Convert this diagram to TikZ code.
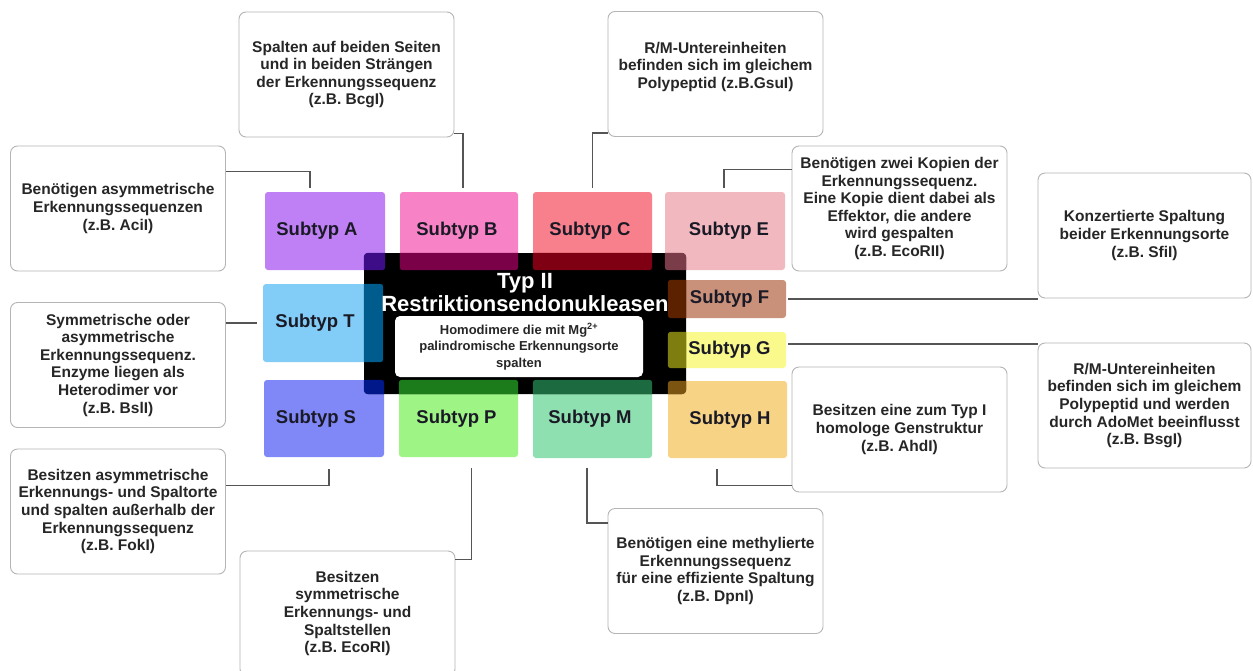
\documentclass[tikz,border=0pt]{standalone}
\usepackage{fontspec}
\setmainfont{Liberation Sans}
\usetikzlibrary{calc}
\definecolor{cA}{HTML}{BF80F5}
\definecolor{cB}{HTML}{F783C6}
\definecolor{cC}{HTML}{F7808C}
\definecolor{cE}{HTML}{F2B8C0}
\definecolor{cF}{HTML}{C9907A}
\definecolor{cG}{HTML}{FAFA8C}
\definecolor{cH}{HTML}{F7D385}
\definecolor{cM}{HTML}{8FE0B0}
\definecolor{cP}{HTML}{9EF585}
\definecolor{cS}{HTML}{8088F7}
\definecolor{cT}{HTML}{82CDF7}
\definecolor{dA}{HTML}{3D0D88}
\definecolor{dB}{HTML}{7A0048}
\definecolor{dC}{HTML}{7E0012}
\definecolor{dE}{HTML}{7A3C48}
\definecolor{dF}{HTML}{5C2200}
\definecolor{dG}{HTML}{7E7E10}
\definecolor{dH}{HTML}{7A5410}
\definecolor{dM}{HTML}{1C6A40}
\definecolor{dP}{HTML}{1C7C1C}
\definecolor{dS}{HTML}{00188A}
\definecolor{dT}{HTML}{005C8C}
\definecolor{subtext}{HTML}{1A1A26}
\definecolor{calltext}{HTML}{262626}
\definecolor{callborder}{HTML}{B5B5B5}
\definecolor{connline}{HTML}{555555}
\begin{document}
\begin{tikzpicture}[x=1pt,y=-1pt,
  subbox/.style={rectangle, rounded corners=3pt, inner sep=0pt, text=subtext,
    font=\bfseries\fontsize{18.5}{20}\selectfont},
  callout/.style={rectangle, draw=callborder, line width=0.9pt, fill=white,
    rounded corners=7pt, minimum width=215pt, minimum height=125pt, inner sep=0pt,
    align=center, text=calltext, font=\bfseries\fontsize{15.5}{17.6}\selectfont},
  conn/.style={draw=connline, line width=1.4pt}]
\useasboundingbox[fill=white] (0,0) rectangle (1253,670);

% subtype boxes
\node[subbox, fill=cA, minimum width=120pt, minimum height=78pt] (A) at (325,231) {\hspace*{-16pt}Subtyp A};
\node[subbox, fill=cB, minimum width=118pt, minimum height=78pt] (B) at (459,231) {\hspace*{-4pt}Subtyp B};
\node[subbox, fill=cC, minimum width=119pt, minimum height=78pt] (C) at (592.5,231) {\hspace*{-5pt}Subtyp C};
\node[subbox, fill=cE, minimum width=120pt, minimum height=78pt] (E) at (725,231) {\hspace*{8pt}Subtyp E};
\node[subbox, fill=cT, minimum width=120pt, minimum height=78pt] (T) at (323,323) {\hspace*{-16pt}Subtyp T};
\node[subbox, fill=cS, minimum width=120pt, minimum height=77pt] (S) at (324,418.5) {\hspace*{-16pt}Subtyp S};
\node[subbox, fill=cP, minimum width=119pt, minimum height=77pt] (P) at (458.5,418.5) {\hspace*{-4pt}Subtyp P};
\node[subbox, fill=cM, minimum width=119pt, minimum height=78pt] (M) at (592.5,419) {\hspace*{-5pt}Subtyp M};
\node[subbox, fill=cH, minimum width=119pt, minimum height=77pt] (H) at (727.5,419.5) {\hspace*{5pt}Subtyp H};
\node[subbox, fill=cF, minimum width=118pt, minimum height=38pt] (F) at (727,299) {\hspace*{5pt}Subtyp F};
\node[subbox, fill=cG, minimum width=118pt, minimum height=36pt] (G) at (727,350) {\hspace*{5pt}Subtyp G};

% central black box
\node[rectangle, rounded corners=4pt, fill=black, minimum width=322pt, minimum height=141pt, inner sep=0pt] (core) at (525,323.5) {};
\begin{scope}
  \clip[rounded corners=4pt] (core.south west) rectangle (core.north east);
  \foreach \n/\c in {A/dA,B/dB,C/dC,E/dE,T/dT,S/dS,P/dP,M/dM,H/dH,F/dF,G/dG}
    \fill[\c, rounded corners=3pt] (\n.south west) rectangle (\n.north east);
\end{scope}
\node[align=center, text=white, font=\bfseries\fontsize{22}{23}\selectfont, inner sep=0pt] (title) at (525,293) {Typ II\\Restriktionsendonukleasen};
\node[rectangle, rounded corners=5pt, fill=white, minimum width=248pt, minimum height=61pt, inner sep=0pt,
  align=center, text=calltext, font=\bfseries\fontsize{13}{16.5}\selectfont] (inner) at (519,346.5)
  {Homodimere die mit Mg\textsuperscript{2+}\\palindromische Erkennungsorte\\spalten};

% callouts
\node[callout] (cAbox) at (118,208.5) {Benötigen asymmetrische\\Erkennungssequenzen\\(z.B. AciI)};
\node[callout] (cBbox) at (346.5,74.5) {Spalten auf beiden Seiten\\und in beiden Strängen\\der Erkennungssequenz\\(z.B. BcgI)};
\node[callout] (cCbox) at (715.5,74) {R/M-Untereinheiten\\befinden sich im gleichem\\Polypeptid (z.B.GsuI)\\\mbox{}};
\node[callout] (cEbox) at (899.5,208.5) {Benötigen zwei Kopien der\\Erkennungssequenz.\\Eine Kopie dient dabei als\\Effektor, die andere\\wird gespalten\\(z.B. EcoRII)};
\node[callout, minimum width=213pt] (cFbox) at (1144.5,235.5) {Konzertierte Spaltung\\beider Erkennungsorte\\(z.B. SfiI)};
\node[callout, minimum width=213pt] (cGbox) at (1144.5,405.5) {R/M-Untereinheiten\\befinden sich im gleichem\\Polypeptid und werden\\durch AdoMet beeinflusst\\(z.B. BsgI)};
\node[callout] (cHbox) at (899.5,429.5) {Besitzen eine zum Typ I\\homologe Genstruktur\\(z.B. AhdI)};
\node[callout] (cMbox) at (715.5,571) {Benötigen eine methylierte\\Erkennungssequenz\\für eine effiziente Spaltung\\(z.B. DpnI)};
\node[callout] (cTbox) at (118,365) {Symmetrische oder\\asymmetrische\\Erkennungssequenz.\\Enzyme liegen als\\Heterodimer vor\\(z.B. BslI)};
\node[callout] (cSbox) at (118,511.5) {Besitzen asymmetrische\\Erkennungs- und Spaltorte\\und spalten außerhalb der\\Erkennungssequenz\\(z.B. FokI)};
\node[callout] (cPbox) at (347.5,613.5) {Besitzen\\symmetrische\\Erkennungs- und\\Spaltstellen\\(z.B. EcoRI)};

% connectors
\coordinate (f1) at ($(F.east)+(2,0)$);
\coordinate (g1) at ($(G.north east)+(2,12)$);
\draw[conn] ($(cAbox.north east)+(0,26)$) -| ($(A.north)+(-15,-4)$);
\draw[conn] ($(cBbox.south east)+(0,-4)$) -| ($(B.north)+(4,-4)$);
\draw[conn] ($(C.north)+(0,-4)$) |- ($(cCbox.south west)+(0,-4)$);
\draw[conn] ($(cEbox.north west)+(0,24)$) -| ($(E.north)+(-1,-4)$);
\draw[conn] ($(T.west)+(-6,0)$) -- (cTbox.east |- T.west);
\draw[conn] ($(cSbox.north east)+(0,37)$) -| ($(S.south)+(5,12)$);
\draw[conn] ($(P.south)+(13,11)$) |- ($(cPbox.north east)+(0,9)$);
\draw[conn] ($(M.south)+(-5.5,10)$) |- ($(cMbox.north west)+(0,15)$);
\draw[conn] ($(H.south)+(-10.5,11)$) |- ($(cHbox.south west)+(0,-7)$);
\draw[conn] (f1) -- (f1 -| cFbox.west);
\draw[conn] (g1) -- (g1 -| cGbox.west);
\end{tikzpicture}
\end{document}
